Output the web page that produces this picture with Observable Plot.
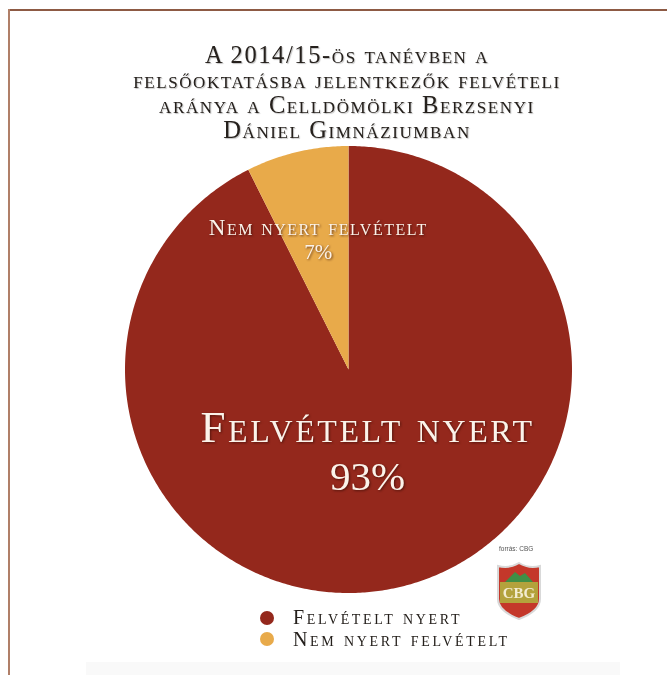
<!DOCTYPE html>
<html lang="hu">
<head>
<meta charset="utf-8">
<script src="https://cdn.jsdelivr.net/npm/d3@7"></script>
<script src="https://cdn.jsdelivr.net/npm/@observablehq/plot@0.6"></script>
<style>
  html, body { margin: 0; padding: 0; background: #fff; }
  #page { position: relative; width: 667px; height: 675px; overflow: hidden; background: #fff; filter: blur(0.35px); font-family: "Liberation Serif", serif; }
  #frameTop { position: absolute; left: 8px; top: 9px; width: 659px; height: 2px; background: #8d5a44; }
  #frameLeft { position: absolute; left: 8px; top: 9px; width: 2px; height: 666px; background: #b07f68; }
  #band { position: absolute; left: 86px; top: 662px; width: 534px; height: 13px; background: #f9f9f9; }
  #chart { position: absolute; left: 0; top: 0; }
  #chart svg text { filter: drop-shadow(1px 1px 1px rgba(50,10,5,.65)); }
  #chart .bigLabel { letter-spacing: 2.6px; }
  #chart .smallLabel { letter-spacing: 1.5px; }
  #title { position: absolute; left: 47px; width: 600px; top: 42px; text-align: center; font-size: 24.5px; line-height: 25px; font-variant: small-caps; color: #25201c; letter-spacing: 1.6px; text-shadow: 1px 1px 1px rgba(0,0,0,.25); }
  #legendText { position: absolute; left: 293px; top: 606px; font-size: 20px; line-height: 22px; font-variant: small-caps; color: #25201c; letter-spacing: 2.65px; white-space: nowrap; }
  #legendDots { position: absolute; left: 260px; top: 607px; }
  #legendDots div { height: 21.5px; display: flex; align-items: center; }
  #legendDots i { display: block; width: 14px; height: 14px; border-radius: 50%; }
  #source { position: absolute; left: 499px; top: 545px; font: 6.5px "Liberation Sans", sans-serif; color: #555; }
  #logo { position: absolute; left: 495px; top: 561px; }
</style>
</head>
<body>
<div id="page">
  <div id="band"></div>
  <div id="chart"></div>
  <div id="frameTop"></div>
  <div id="frameLeft"></div>
  <div id="title"></div>
  <div id="legendDots"></div>
  <div id="legendText"></div>
  <div id="source">forrás: CBG</div>
  <svg id="logo" width="48" height="60" viewBox="0 0 48 60">
    <path d="M3 5 Q14 8 24 2 Q34 8 45 5 L45 38 Q45 50 24 58 Q3 50 3 38 Z" fill="#c4372a" stroke="#d9d9d9" stroke-width="2"/>
    <path d="M10 21 L20 11 L25 15 L30 12 L38 21 Z" fill="#3f8f46"/>
    <path d="M5 21 H43 V42 H5 Z" fill="#b3a23c"/>
    <text x="24" y="37" text-anchor="middle" font-family="Liberation Serif" font-weight="700" font-size="15" fill="#f3ecd0">CBG</text>
  </svg>
</div>
<script>
const titleLines = [
  "A 2014/15-ös tanévben a",
  "felsőoktatásba jelentkezők felvételi",
  "aránya a Celldömölki Berzsenyi",
  "Dániel Gimnáziumban"
];
const categories = ["Felvételt nyert", "Nem nyert felvételt"];
const shares = [92.6, 7.4];
const shownPercent = ["93%", "7%"];
const colors = ["#94281c", "#e8aa4a"];

// Slices built from the values, clockwise from the top of the circle.
const total = d3.sum(shares);
let running = 0;
const outline = [];
categories.forEach((category, i) => {
  const start = running / total * 2 * Math.PI;
  running += shares[i];
  const end = running / total * 2 * Math.PI;
  const steps = Math.ceil((end - start) / 0.01);
  outline.push({category, px: 0, py: 0});
  for (let s = 0; s <= steps; ++s) {
    const a = start + (end - start) * s / steps;
    outline.push({category, px: Math.sin(a), py: Math.cos(a)});
  }
});

const big = {text: categories[0], pct: shownPercent[0]};
const small = {text: categories[1], pct: shownPercent[1]};

const chart = Plot.plot({
  width: 667,
  height: 675,
  margin: 0,
  axis: null,
  style: {background: "transparent"},
  x: {domain: [-1, 1], range: [124.5, 571.5]},
  y: {domain: [-1, 1], range: [592.5, 145.5]},
  color: {domain: categories, range: colors},
  marks: [
    Plot.line(outline, {x: "px", y: "py", z: "category", fill: "category", stroke: null, curve: "linear"}),
    Plot.text([big.text], {x: [0.085], y: [-0.26], text: d => d, className: "bigLabel", fontSize: 45, fontFamily: "Liberation Serif", fontVariant: "small-caps", fill: "#fbf3ea"}),
    Plot.text([big.pct], {x: [0.085], y: [-0.48], text: d => d, fontSize: 41, fontFamily: "Liberation Serif", fill: "#fbf3ea"}),
    Plot.text([small.text], {x: [-0.135], y: [0.635], text: d => d, className: "smallLabel", fontSize: 23, fontFamily: "Liberation Serif", fontVariant: "small-caps", fill: "#fbf3ea"}),
    Plot.text([small.pct], {x: [-0.135], y: [0.525], text: d => d, fontSize: 21, fontFamily: "Liberation Serif", fill: "#fbf3ea"})
  ]
});
document.getElementById("chart").append(chart);

document.getElementById("title").innerHTML = titleLines.join("<br>");
document.getElementById("legendText").innerHTML = categories.join("<br>");
const dots = document.getElementById("legendDots");
colors.forEach(c => {
  const row = document.createElement("div");
  const dot = document.createElement("i");
  dot.style.background = c;
  row.append(dot);
  dots.append(row);
});
</script>
</body>
</html>
